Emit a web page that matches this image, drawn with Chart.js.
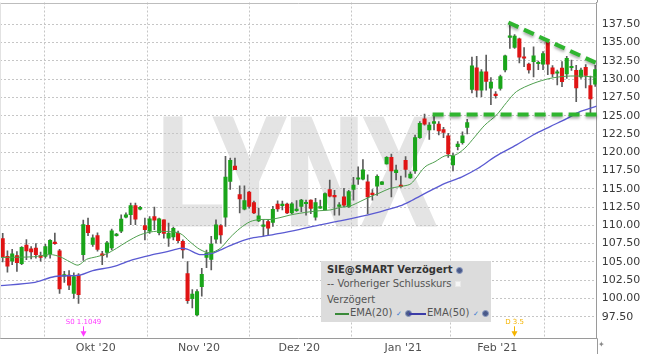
<!DOCTYPE html>
<html><head><meta charset="utf-8">
<script src="https://cdn.jsdelivr.net/npm/chart.js@4/dist/chart.umd.min.js"></script>
<style>
html,body{margin:0;padding:0;background:#fff;}
#wrap{position:relative;width:645px;height:358px;overflow:hidden;font-family:"DejaVu Sans",sans-serif;}
#c{position:absolute;left:0;top:0;}
#legend{position:absolute;left:321px;top:261px;width:170px;height:61px;background:#dcdcdc;font-size:10px;color:#555;line-height:12px;}
#legend .r{position:absolute;white-space:nowrap;}
.globe{display:inline-block;width:5px;height:5px;border-radius:50%;background:#4a5a8a;border:1px solid #8a9ac0;vertical-align:middle;}
.sq{display:inline-block;width:4px;height:4px;background:#f6f6f6;border:1px solid #e8e8e8;vertical-align:middle;}
.chk{color:#3a7ad0;font-size:7px;}
.ln{position:absolute;height:2px;}
#star{position:absolute;left:598px;top:340px;font-size:8px;color:#888;}
</style></head><body>
<div id="wrap">
<canvas id="c" width="645" height="358"></canvas>
<div id="legend">
  <div class="r" style="left:6px;top:3px;color:#333;font-weight:bold;">SIE@SMART Verzögert <span class="globe"></span></div>
  <div class="r" style="left:6px;top:17px;">--&nbsp;Vorheriger Schlusskurs <span class="sq"></span></div>
  <div class="r" style="left:6px;top:33px;">Verzögert</div>
  <div class="ln" style="left:14px;top:52px;width:14px;background:#3a8a3a;"></div>
  <div class="r" style="left:29px;top:46px;">EMA(20)</div>
  <div class="r" style="left:75px;top:46px;"><span class="chk">✓</span> <span class="globe"></span></div>
  <div class="ln" style="left:88px;top:52px;width:17px;background:#3c3ca8;"></div>
  <div class="r" style="left:106px;top:46px;">EMA(50)</div>
  <div class="r" style="left:152px;top:46px;"><span class="chk">✓</span> <span class="globe"></span></div>
</div>
<div id="star">✦</div>
</div>
<script>
// ---- data ----
const opens = [108.2,105.75,105.1,105.85,104.75,107.3,106.8,106.9,105.85,105.75,
106.1,107.7,106.5,103.05,103.2,100.7,103.2,106.0,110.0,107.4,
108.6,106.1,106.3,106.9,108.6,109.2,111.1,111.45,112.7,112.2,
109.95,109.2,111.2,109.0,110.75,108.25,108.4,108.9,107.8,103.4,
99.95,97.75,101.6,105.6,105.35,108.1,109.95,111.1,116.0,118.1,
114.2,112.2,114.55,113.1,110.6,109.85,110.5,110.4,112.9,112.7,
112.9,111.7,112.0,112.6,112.95,113.45,111.1,112.35,112.1,114.9,
114.1,112.6,113.9,112.5,114.9,116.3,116.3,115.95,114.35,115.35,
115.6,118.4,119.3,117.2,115.5,118.9,116.5,117.45,122.0,124.55,
123.05,123.95,123.85,123.1,122.25,118.25,120.75,121.3,123.4,128.6,
131.55,128.5,131.0,128.75,127.9,128.73,131.25,135.7,134.35,135.5,
133.05,132.05,132.4,132.1,132.05,135.05,131.55,130.8,131.5,130.7,
131.55,131.2,130.3,131.6,129.1,129.3];
const highs = [108.9,106.5,106.7,106.4,107.1,108.05,107.1,107.5,106.35,107.4,
108.05,108.95,106.7,103.7,103.8,103.5,103.4,110.7,111.0,108.7,
108.97,106.45,107.8,109.5,108.9,111.45,111.7,113.05,113.05,112.6,
111.0,111.2,112.5,111.0,110.75,110.3,109.75,109.2,108.0,105.05,
101.2,101.2,104.1,106.6,108.5,110.75,110.1,119.45,119.2,119.2,
115.4,115.4,114.65,113.3,112.35,110.75,110.75,112.6,113.35,113.3,
113.05,113.1,113.4,113.55,113.45,113.5,113.7,113.45,114.45,116.2,
114.8,113.1,115.05,114.8,116.55,118.0,119.0,116.9,114.9,116.9,
116.0,119.4,119.75,118.25,116.75,119.4,117.3,122.35,124.2,125.2,
124.05,125.3,124.2,123.4,122.6,119.85,121.45,122.8,124.5,133.0,
133.1,131.3,133.3,130.2,128.3,130.55,133.3,137.6,136.1,135.6,
134.3,132.2,134.4,132.45,133.75,135.1,131.85,131.25,132.4,133.1,
132.6,131.9,131.5,132.0,130.4,131.9];
const lows = [105.0,103.6,104.6,103.7,104.6,105.3,105.4,105.5,105.1,105.5,
105.5,107.4,100.7,102.2,101.2,100.0,99.3,105.2,108.6,107.1,
106.45,104.6,105.65,106.65,108.5,109.0,111.0,110.1,110.1,112.1,
108.0,108.9,109.4,108.7,108.25,107.1,108.0,107.6,105.5,99.3,
98.7,97.65,100.3,104.2,103.9,107.55,107.55,109.85,114.9,117.6,
111.7,112.1,112.35,111.6,110.5,108.5,108.7,109.85,111.9,112.1,
111.6,111.6,111.9,111.85,111.4,111.6,110.7,112.3,112.1,113.9,
111.4,111.4,112.5,112.45,113.45,115.6,116.2,111.6,113.45,114.1,
115.55,118.35,113.9,116.2,115.2,116.6,116.4,117.1,121.9,123.7,
121.75,123.05,122.35,122.0,119.3,117.45,120.3,121.1,122.5,128.1,
127.6,127.6,128.5,126.5,127.4,128.5,131.0,134.2,134.2,132.2,
131.7,130.8,130.3,131.3,131.3,130.6,130.3,129.2,128.95,130.1,
131.2,126.9,130.1,128.8,125.3,129.0];
const closes = [105.7,104.4,106.1,104.9,107.0,106.5,106.35,106.0,105.6,107.1,
107.95,107.5,101.3,103.2,101.8,103.0,100.5,110.1,109.0,108.3,
106.7,105.85,107.6,109.25,108.8,110.85,111.45,112.7,110.85,112.45,
109.4,110.9,110.7,110.9,108.9,108.9,109.6,107.9,106.65,99.7,
100.6,100.95,103.3,106.2,107.45,110.05,108.7,116.6,118.9,117.6,
113.6,113.4,112.6,111.7,111.3,110.0,109.6,112.2,112.25,112.85,
111.7,112.95,112.2,113.45,113.1,112.3,113.1,112.55,114.35,114.0,
113.9,112.8,112.75,114.6,115.5,116.5,117.6,113.9,114.2,116.7,
115.95,119.3,117.45,117.55,115.3,117.65,117.0,122.0,123.95,123.85,
123.7,124.2,122.9,122.7,119.75,119.5,121.1,122.25,124.05,131.8,
128.5,131.0,129.7,129.6,127.75,130.33,133.2,135.9,135.9,133.0,
132.85,131.25,133.2,132.25,133.5,132.05,130.7,130.95,129.65,132.85,
131.7,128.8,131.25,130.5,127.3,131.3];

// EMA values at sample bar positions
const ema20Pos = [-0.5,6.5,10,12.1,14.2,15.9,17.7,19.8,21.9,24,26.2,29,31.8,34.6,37.4,39.5,41.6,43.7,45.9,48,50.1,52.2,54.3,56.4,58.5,60.6,62.7,64.8,66.9,69.1,71.2,73.3,75.4,77.5,79.6,81.7,83.8,85.9,87,89.1,91.2,93.3,95.4,97.5,99.6,101.7,104.2,106.3,108.4,111.9,115.5,119,122.5,125.3];
const ema20Val = [105.6,105.7,106.0,105.7,105.0,104.55,105.35,105.7,106.1,106.85,107.75,108.7,109.15,109.15,108.9,107.75,106.7,106.25,106.85,108.35,109.6,110.5,110.8,110.8,111.05,111.4,111.65,111.85,112.0,112.1,112.45,112.65,113.25,113.9,114.45,115.05,115.3,115.6,116.3,118.0,118.7,119.5,119.6,120.55,122.1,123.7,125.1,126.8,128.3,129.4,130.1,130.4,130.4,130.25];
const ema50Pos = [-0.5,6.4,11,16.3,19,23.3,27.5,31.1,34.7,37.4,38.9,41.6,44.4,45.8,48.6,52.2,54.9,58.5,62.7,66.9,71.2,75.4,79.6,83.8,86.3,89.8,93.3,96.8,100.3,103.9,108.4,111.9,115.5,119,121.8,125.3];
const ema50Val = [101.75,102.15,103.0,103.2,103.8,104.35,105.3,105.9,106.4,106.85,106.75,106.0,106.2,106.6,107.4,108.2,108.5,108.9,109.45,110.05,110.6,111.2,111.85,112.65,113.4,114.6,115.75,116.6,117.8,119.4,121.0,122.35,123.5,124.6,125.55,126.3];

// trend lines (bar position, price)
const resistPos = [106.7, 125.35];
const resistVal = [137.75, 132.17];
const supportPos = [90.7, 125.35];
const supportVal = [125.15, 125.15];

// axes
const yTicks = [97.5,100,102.5,105,107.5,110,112.5,115,117.5,120,122.5,125,127.5,130,132.5,135,137.5];
const monthPos = [19.62, 41.41, 62.57, 84.51, 104.35, 124.47];
const monthLabels = ["Okt '20", "Nov '20", "Dez '20", "Jan '21", "Feb '21", ""];
const markers = [{at: 17, text: 'S0 1.1049', color: '#ff3cff'}, {at: 107.8, text: 'D 3.5', color: '#f5b400'}];

// ---- build ----
const UP = '#1aa51a', DOWN = '#e01414';
const idx = opens.map((_, i) => i);
const bodyData = idx.map(i => ({x: i, y: [opens[i], closes[i]]}));
const wickData = idx.map(i => ({x: i, y: [lows[i], highs[i]]}));
const bodyColors = idx.map(i => closes[i] >= opens[i] ? UP : DOWN);
const pts = (p, v) => p.map((x, k) => ({x: x, y: v[k]}));

const FONT = '"DejaVu Sans", sans-serif';

const deco = {
  id: 'deco',
  beforeDraw(chart) {
    const ctx = chart.ctx;
    ctx.save();
    ctx.fillStyle = '#fff';
    ctx.fillRect(0, 0, chart.width, chart.height);
    // LYNX watermark
    ctx.fillStyle = '#e4e4e4';
    ctx.strokeStyle = '#e4e4e4';
    ctx.font = 'bold 152px "Liberation Sans", Arial, sans-serif';
    ctx.textBaseline = 'alphabetic';
    ctx.translate(158, 223.5);
    ctx.scale(0.707, 1);
    ctx.lineWidth = 5;
    ctx.lineJoin = 'miter';
    ctx.fillText('LYNX', 0, 0);
    ctx.strokeText('LYNX', 0, 0);
    ctx.restore();
  },
  beforeDatasetDraw(chart, args) {
    const ds = chart.data.datasets[args.index];
    if (ds.isTrend) {
      chart.ctx.save();
      chart.ctx.shadowColor = 'rgba(0,0,0,0.35)';
      chart.ctx.shadowBlur = 3;
      chart.ctx.shadowOffsetY = 2;
    }
  },
  afterDatasetDraw(chart, args) {
    const ds = chart.data.datasets[args.index];
    if (ds.isTrend) chart.ctx.restore();
  },
  afterDraw(chart) {
    const ctx = chart.ctx, a = chart.chartArea, xs = chart.scales.x;
    ctx.save();
    ctx.strokeStyle = '#bdbdbd';
    ctx.lineWidth = 1;
    ctx.beginPath();
    ctx.moveTo(0, Math.round(a.top) + 0.5); ctx.lineTo(a.right, Math.round(a.top) + 0.5);
    ctx.stroke();
    ctx.strokeStyle = '#e2e2e2';
    ctx.beginPath(); ctx.moveTo(0.5, a.top); ctx.lineTo(0.5, a.bottom); ctx.stroke();
    ctx.strokeStyle = '#9a9a9a';
    ctx.beginPath();
    ctx.moveTo(Math.round(a.right) + 0.5, a.bottom); ctx.lineTo(Math.round(a.right) + 0.5, chart.height - 4);
    ctx.moveTo(Math.round(a.right) + 0.5, 0); ctx.lineTo(Math.round(a.right) + 0.5, a.top);
    ctx.stroke();
    // event markers
    markers.forEach(m => {
      const x = Math.round(xs.getPixelForValue(m.at)) + 0.5;
      ctx.fillStyle = m.color;
      ctx.strokeStyle = m.color;
      ctx.font = '7px ' + FONT;
      ctx.textAlign = 'center';
      ctx.textBaseline = 'middle';
      ctx.fillText(m.text, x, a.bottom - 16.5);
      ctx.beginPath();
      ctx.moveTo(x, a.bottom - 12); ctx.lineTo(x, a.bottom - 5);
      ctx.stroke();
      ctx.beginPath();
      ctx.moveTo(x - 3, a.bottom - 7); ctx.lineTo(x + 3, a.bottom - 7); ctx.lineTo(x, a.bottom - 1.5);
      ctx.closePath(); ctx.fill();
    });
    ctx.restore();
  }
};

new Chart(document.getElementById('c'), {
  type: 'bar',
  data: {
    datasets: [
      {type: 'line', label: 'resist', isTrend: true, data: pts(resistPos, resistVal), borderColor: '#2fb52f', borderWidth: 4, borderDash: [11, 6], pointRadius: 0, order: 0, clip: 4},
      {type: 'line', label: 'support', isTrend: true, data: pts(supportPos, supportVal), borderColor: '#2fb52f', borderWidth: 4, borderDash: [11, 6], pointRadius: 0, order: 0, clip: 4},
      {type: 'line', label: 'EMA(20)', data: pts(ema20Pos, ema20Val), borderColor: '#4f9f4f', borderWidth: 1, pointRadius: 0, tension: 0.3, order: 1},
      {type: 'line', label: 'EMA(50)', data: pts(ema50Pos, ema50Val), borderColor: '#5a5ad2', borderWidth: 1.3, pointRadius: 0, tension: 0.3, order: 1},
      {type: 'bar', label: 'body', data: bodyData, backgroundColor: bodyColors, barThickness: 3.4, grouped: false, minBarLength: 1.5, order: 2},
      {type: 'bar', label: 'wick', data: wickData, backgroundColor: '#5c5c5c', barThickness: 1, grouped: false, order: 3}
    ]
  },
  options: {
    responsive: false,
    animation: false,
    events: [],
    layout: {padding: {top: 2.5, left: 0, right: 0, bottom: 0}},
    plugins: {legend: {display: false}, tooltip: {enabled: false}, title: {display: false}},
    scales: {
      x: {
        type: 'linear', min: -0.57, max: 125.32, offset: false,
        afterBuildTicks: s => { s.ticks = monthPos.map(v => ({value: v})); },
        afterFit: s => { s.height = 19.7; s.paddingLeft = 0; s.paddingRight = 0; },
        ticks: {autoSkip: false, maxRotation: 0, padding: 3, color: '#505050', font: {family: FONT, size: 11},
          callback: (v, i) => monthLabels[i]},
        grid: {color: '#c6c6c6', lineWidth: 1, drawTicks: false},
        border: {display: true, color: '#9a9a9a', width: 1, dash: [2, 2]}
      },
      y: {
        type: 'linear', position: 'right', min: 94.545, max: 140.48,
        afterBuildTicks: s => { s.ticks = yTicks.map(v => ({value: v})); },
        afterFit: s => { s.width = 48.3; s.paddingTop = 0; s.paddingBottom = 0; },
        ticks: {padding: 5, color: '#3a3a3a', font: {family: FONT, size: 11}, callback: v => Number(v).toFixed(2)},
        grid: {color: '#c6c6c6', lineWidth: 1, drawTicks: false},
        border: {display: true, color: '#9a9a9a', width: 1, dash: [2, 2]}
      }
    }
  },
  plugins: [deco]
});
</script>
</body></html>
